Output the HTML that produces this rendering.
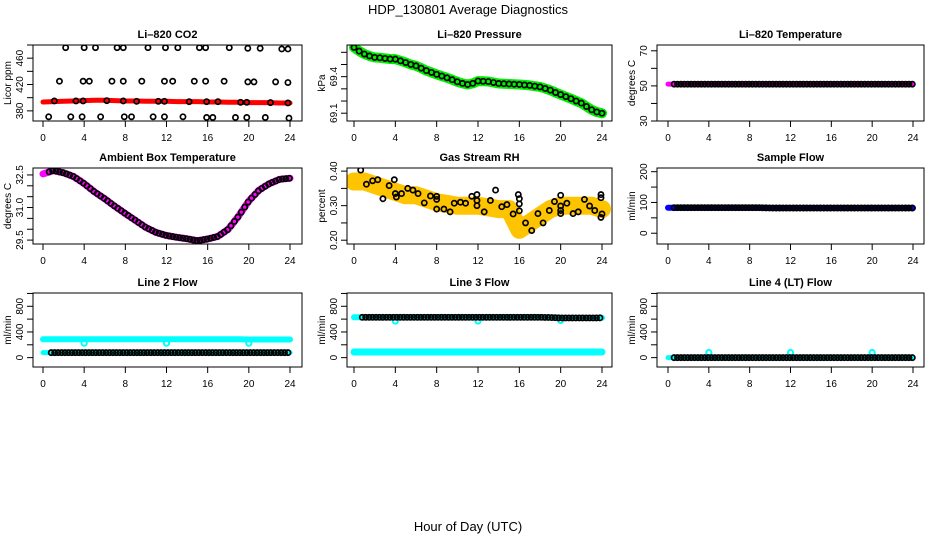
<!DOCTYPE html>
<html><head><meta charset="utf-8"><style>
html,body{margin:0;padding:0;background:#fff;}
svg{display:block;font-family:"Liberation Sans",Arial,sans-serif;}
</style></head><body>
<svg id="chart" width="936" height="540" viewBox="0 0 936 540" xmlns="http://www.w3.org/2000/svg">
<text x="468" y="14" text-anchor="middle" font-size="13">HDP_130801  Average Diagnostics</text>
<text x="468" y="531" text-anchor="middle" font-size="13">Hour of Day (UTC)</text>
</svg>
<script>
// ---------- data ----------
const hourTicks = [0,4,8,12,16,20,24];
const hours = [0,1,2,3,4,5,6,7,8,9,10,11,12,13,14,15,16,17,18,19,20,21,22,23,24];
const halfHours = [0,0.5,1,1.5,2,2.5,3,3.5,4,4.5,5,5.5,6,6.5,7,7.5,8,8.5,9,9.5,10,10.5,11,11.5,12,12.5,13,13.5,14,14.5,15,15.5,16,16.5,17,17.5,18,18.5,19,19.5,20,20.5,21,21.5,22,22.5,23,23.5,24];

const co2Band = [393.5,394,394.5,395,395.5,396,396,395.5,395,395,394.5,394.5,394.5,394,394,394,393.5,393.5,393,393,392.5,392.5,392.5,392,392];
const co2TopHours = [2.2,4.0,5.1,7.2,7.8,10.2,11.9,13.1,15.2,15.8,18.1,19.9,21.1,23.2,23.8];
const co2TopVals = [476,476,476,476,476,476,476,476,476,476,476,475,475,474,474];
const co2MidHours = [1.6,3.9,4.5,6.7,7.8,9.6,11.8,12.6,14.7,15.8,17.6,19.9,20.5,22.6,23.8];
const co2MidVals = [425,425,425,425,425,425,425,425,425,425,425,424,424,424,423];
const co2MainHours = [1.1,3.2,3.9,6.2,7.8,9.1,11.2,11.8,14.2,15.9,17,19.2,19.8,22.1,23.8];
const co2MainVals = [395,395,395,395.5,395,394.5,394.5,394.5,394,394,394,393,393,392.5,392];
const co2LowHours = [0.55,2.7,3.8,5.6,7.9,8.6,10.7,11.8,13.6,15.9,16.5,18.7,19.8,21.6,23.9];
const co2LowVals = [371,371,371,371,371,371,371,371,371,370,370,370,370,370,369];

const pressVals = [69.64,69.61,69.586,69.57,69.558,69.555,69.55,69.545,69.544,69.53,69.516,69.50,69.489,69.47,69.45,69.435,69.419,69.405,69.391,69.375,69.358,69.345,69.336,69.345,69.364,69.362,69.36,69.352,69.344,69.342,69.34,69.338,69.336,69.332,69.328,69.322,69.316,69.303,69.289,69.27,69.253,69.236,69.219,69.2,69.183,69.155,69.128,69.11,69.1];

const licorTemp = [51,51,51,51,51,51,51,51,51,51,51,51,51,51,51,51,51,51,51,51,51,51,51,51,51];

const ambientTemp = [32.55,32.7,32.6,32.42,32.1,31.72,31.4,31.05,30.72,30.4,30.08,29.85,29.71,29.63,29.56,29.47,29.55,29.67,30.0,30.6,31.3,31.8,32.1,32.3,32.35];

const rhBand = [0.37,0.37,0.36,0.35,0.34,0.33,0.33,0.32,0.31,0.305,0.30,0.30,0.30,0.295,0.29,0.29,0.23,0.25,0.27,0.29,0.30,0.30,0.30,0.30,0.29];
const rhPtHours = [0.65,1.2,1.8,2.3,2.8,3.4,3.9,4.0,4.1,4.6,5.2,5.7,6.2,6.8,7.4,8.0,8.0,8.0,8.7,9.3,9.7,10.3,10.8,11.4,11.9,11.9,11.9,12.6,13.2,13.7,14.3,14.8,15.4,15.9,16,16,16,16.6,17.2,17.8,18.3,18.9,19.4,20,20,20,20,20.6,21.2,21.7,22.3,22.8,23.3,23.9,23.9,24,23.9];
const rhPtVals = [0.403,0.362,0.372,0.375,0.32,0.358,0.375,0.335,0.325,0.335,0.35,0.345,0.335,0.308,0.328,0.327,0.318,0.29,0.29,0.282,0.307,0.31,0.307,0.327,0.332,0.315,0.30,0.282,0.315,0.345,0.297,0.303,0.276,0.332,0.32,0.305,0.285,0.25,0.228,0.277,0.25,0.286,0.312,0.33,0.299,0.286,0.277,0.307,0.277,0.282,0.318,0.299,0.286,0.332,0.323,0.276,0.266];

const sampleFlow = [83,83,83,83,83,83,83,83,83,83,82,82,82,82,82,82,82,82,82,82,82,82,82,82,82];

const line2High = [285,285,285,285,285,285,285,285,285,285,285,285,285,285,285,285,285,285,285,285,282,282,282,282,282];
const line2Low = [78,78,78,78,78,78,78,78,78,78,78,78,78,78,78,78,78,78,78,78,78,78,78,78,78];
const line2DipHours = [4,12,20];
const line2DipVals = [225,225,225];

const line3High = [628,628,628,628,628,628,628,628,628,628,628,628,628,628,628,628,628,628,628,625,618,618,618,618,620];
const line3Low = [87,87,87,87,87,87,87,87,87,87,87,87,87,87,87,87,87,87,87,87,87,87,87,87,87];
const line3DipHours = [4,12,20];
const line3DipVals = [570,570,580];

const line4 = [0,0,0,0,0,0,0,0,0,0,0,0,0,0,0,0,0,0,0,0,0,0,0,0,0];
const line4BumpHours = [4,12,20];
const line4BumpVals = [80,80,80];

// ---------- layout ----------
const NS = "http://www.w3.org/2000/svg";
const svg = document.getElementById('chart');
const COLS = [{l:33,r:302,x0:43,x24:290},{l:347,r:612,x0:354,x24:602},{l:657,r:924,x0:668,x24:913}];
const ROWS = [{t:45,b:121},{t:168,b:244},{t:293,b:367}];

function mk(tag, attrs, parent){
  const e = document.createElementNS(NS, tag);
  for (const k in attrs) e.setAttribute(k, attrs[k]);
  (parent||svg).appendChild(e);
  return e;
}

function makePanel(ci, ri, name, title, ylab, ylim, ticks, labels){
  const c = COLS[ci], r = ROWS[ri];
  const g = mk('g', {});
  
  
  const sx = h => c.x0 + (h/24)*(c.x24 - c.x0);
  const sy = v => r.b - (v - ylim[0])/(ylim[1]-ylim[0])*(r.b - r.t);
  const t = mk('text', {x:(c.l+c.r)/2, y:r.t-7, 'text-anchor':'middle', 'font-size':11, 'font-weight':'bold'}, g);
  t.textContent = title;
  
  
  const yl = mk('text', {x:0, y:0, 'text-anchor':'middle', 'font-size':10, transform:`translate(${c.l-22},${(r.t+r.b)/2}) rotate(-90)`}, g);
  yl.textContent = ylab;
  
  
  // x axis
  const xa = mk('g', {}, g);
  
  
  hourTicks.forEach(h => {
    mk('line', {x1:sx(h), x2:sx(h), y1:r.b, y2:r.b+6, stroke:'#000'}, xa);
    const tl = mk('text', {x:sx(h), y:r.b+20, 'text-anchor':'middle', 'font-size':10}, xa);
    tl.textContent = h;
    
    
  });
  // y axis
  const ya = mk('g', {}, g);
  
  
  ticks.forEach(v => {
    mk('line', {x1:c.l-6, x2:c.l, y1:sy(v), y2:sy(v), stroke:'#000'}, ya);
  });
  labels.forEach(v => {
    const tl = mk('text', {x:0, y:0, 'text-anchor':'middle', 'font-size':10, transform:`translate(${c.l-10},${sy(parseFloat(v))}) rotate(-90)`}, ya);
    tl.textContent = v;
    
    
  });
  const plot = mk('g', {}, g);
  
  
  const clip = 'clip' + ci + ri;
  const cp = mk('clipPath', {id:clip}, g);
  mk('rect', {x:c.l, y:r.t, width:c.r-c.l, height:r.b-r.t}, cp);
  plot.setAttribute('clip-path', `url(#${clip})`);
  const box = mk('rect', {x:c.l, y:r.t, width:c.r-c.l, height:r.b-r.t, fill:'none', stroke:'#000'}, g);
  
  
  return {sx, sy, plot};
}

function band(p, xs, ys, color, w, name){
  const pts = xs.map((h,i) => p.sx(h).toFixed(1) + ',' + p.sy(ys[i]).toFixed(1)).join(' ');
  const pl = mk('polyline', {points:pts, fill:'none', stroke:color, 'stroke-width':w, 'stroke-linejoin':'round', 'stroke-linecap':'round'}, p.plot);
  
  
}
function circles(p, xs, ys, color, name, rad, sw){
  const g = mk('g', {}, p.plot);
  
  
  xs.forEach((h,i) => {
    const c = mk('circle', {cx:p.sx(h), cy:p.sy(ys[i]), r:rad||2.6, fill:'none', stroke:color, 'stroke-width':sw||1.7}, g);
    
    
  });
}
function denseCircles(p, xs, ys, start, name){
  const hx = [], hy = [];
  for (let h = start; h <= 24.001; h += 1/3) {
    const i = Math.min(Math.floor(h / (xs[1]-xs[0])), xs.length-2);
    const f = (h - xs[i]) / (xs[i+1]-xs[i]);
    hx.push(h); hy.push(ys[i] + f*(ys[i+1]-ys[i]));
  }
  circles(p, hx, hy, '#000', name);
}

// Panel 1: CO2
let p = makePanel(0,0,'co2','Li\u2013820 CO2','Licor ppm',[364.6,480],[380,400,420,440,460,480],['380','420','460']);
band(p, hours, co2Band, '#ff0000', 5, 'co2-red-series');
circles(p, co2MainHours, co2MainVals, '#000', 'co2-main-points');
circles(p, co2TopHours, co2TopVals, '#000', 'co2-top-points');
circles(p, co2MidHours, co2MidVals, '#000', 'co2-mid-points');
circles(p, co2LowHours, co2LowVals, '#000', 'co2-low-points');

// Panel 2: Pressure
p = makePanel(1,0,'pressure','Li\u2013820 Pressure','kPa',[69.036,69.66],[69.1,69.2,69.3,69.4,69.5,69.6],['69.1','69.4']);
band(p, halfHours, pressVals, '#00ee00', 10, 'pressure-green-series');
circles(p, halfHours, pressVals, '#000', 'pressure-points');

// Panel 3: Licor temperature
p = makePanel(2,0,'licor-temp','Li\u2013820 Temperature','degrees C',[30,73.3],[30,40,50,60,70],['30','50','70']);
band(p, hours, licorTemp, '#ff00ff', 5, 'licor-temp-series');
denseCircles(p, hours, licorTemp, 0.6, 'licor-temp-points');

// Panel 4: Ambient
p = makePanel(0,1,'ambient-temp','Ambient Box Temperature','degrees C',[29.32,32.82],[29.5,30,30.5,31,31.5,32,32.5],['29.5','31.0','32.5']);
band(p, hours, ambientTemp, '#ff00ff', 7, 'ambient-temp-series');
denseCircles(p, hours, ambientTemp, 0.6, 'ambient-temp-points');

// Panel 5: RH
p = makePanel(1,1,'gas-rh','Gas Stream RH','percent',[0.189,0.409],[0.2,0.25,0.3,0.35,0.4],['0.20','0.30','0.40']);
band(p, hours, rhBand, '#ffc400', 18, 'rh-band-series');
circles(p, rhPtHours, rhPtVals, '#000', 'rh-points');

// Panel 6: Sample flow
p = makePanel(2,1,'sample-flow','Sample Flow','ml/min',[-35,212],[0,50,100,150,200],['0','100','200']);
band(p, hours, sampleFlow, '#0000ff', 6, 'sample-flow-series');
denseCircles(p, hours, sampleFlow, 0.6, 'sample-flow-points');

// Panel 7: Line 2
p = makePanel(0,2,'line2-flow','Line 2 Flow','ml/min',[-146,1007],[0,200,400,600,800,1000],['0','400','800']);
band(p, hours, line2High, '#00ffff', 6, 'line2-high-series');
band(p, hours, line2Low, '#00ffff', 5, 'line2-low-series');
circles(p, line2DipHours, line2DipVals, '#00ffff', 'line2-dips', 2.6, 2);
denseCircles(p, hours, line2Low, 0.8, 'line2-points');

// Panel 8: Line 3
p = makePanel(1,2,'line3-flow','Line 3 Flow','ml/min',[-146,1007],[0,200,400,600,800,1000],['0','400','800']);
band(p, hours, line3Low, '#00ffff', 7, 'line3-low-series');
band(p, hours, line3High, '#00ffff', 6, 'line3-high-series');
circles(p, line3DipHours, line3DipVals, '#00ffff', 'line3-dips', 2.6, 2);
denseCircles(p, hours, line3High, 0.8, 'line3-points');

// Panel 9: Line 4
p = makePanel(2,2,'line4-flow','Line 4 (LT) Flow','ml/min',[-146,1007],[0,200,400,600,800,1000],['0','400','800']);
band(p, hours, line4, '#00ffff', 5, 'line4-series');
circles(p, line4BumpHours, line4BumpVals, '#00ffff', 'line4-bumps', 2.6, 2);
denseCircles(p, hours, line4, 0.6, 'line4-points');
</script>
</body></html>
